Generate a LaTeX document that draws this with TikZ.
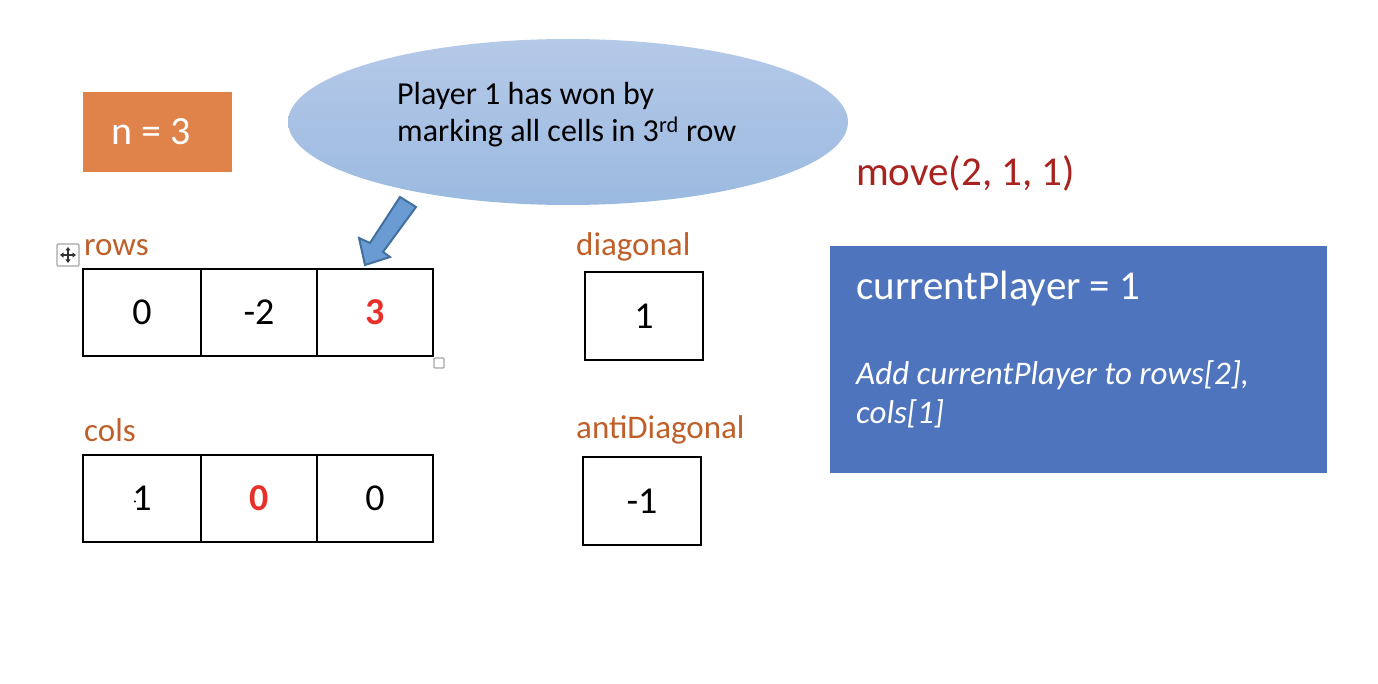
\documentclass[tikz,border=0pt]{standalone}
\usepackage{fontspec}
\setmainfont{Carlito}
\usetikzlibrary{shapes.geometric,arrows.meta}
\definecolor{orangebox}{HTML}{E0834A}
\definecolor{labelc}{HTML}{BF5F2A}
\definecolor{bluebox}{HTML}{4E74BE}
\definecolor{ellTop}{HTML}{B5C9E8}
\definecolor{ellBot}{HTML}{9BBAE0}
\definecolor{arrowfill}{HTML}{6A9BD3}
\definecolor{arrowline}{HTML}{41709F}
\definecolor{movec}{HTML}{A8231E}
\definecolor{redval}{HTML}{E8302A}
\tikzset{
  lbl/.style={anchor=west, text=labelc, font=\fontsize{33}{38}\selectfont, inner sep=0pt},
  cell/.style={draw=black, line width=2pt, minimum height=87pt, inner sep=0pt, font=\fontsize{38}{44}\selectfont},
  redcell/.style={cell, text=redval, font=\fontsize{38}{44}\selectfont\bfseries},
  iconarrow/.style={line width=1.2pt, draw=black!80, -{Triangle[length=3.5pt,width=5pt]}},
}
\begin{document}
\begin{tikzpicture}[x=1pt,y=-1pt]
\useasboundingbox (0,0) rectangle (1378,684);
% n = 3
\fill[orangebox] (83,92) rectangle (232,172);
\node[text=white, font=\fontsize{40}{46}\selectfont, inner sep=0pt] (nbox) at (151,132) {n = 3};
% ellipse
\node[ellipse, top color=ellTop, bottom color=ellBot, minimum width=560pt, minimum height=166pt, inner sep=0pt] (ell) at (568,122) {};
\node[anchor=west, align=left, font=\fontsize{32}{37}\selectfont, inner sep=0pt] (elltxt) at (397,115)
  {Player 1 has won by\\marking all cells in 3\textsuperscript{rd} row};
% block arrow
\draw[fill=arrowfill, draw=arrowline, line width=2pt, line join=miter]
  (400,197) -- (416,207) -- (383,252) -- (390,257) -- (365,265) -- (359,238) -- (370,243) -- cycle;
% rows
\node[lbl] (rowsl) at (84,248) {rows};
\node[cell, minimum width=118pt] (r0) at (142,312.5) {0};
\node[cell, minimum width=116pt] (r1) at (259,312.5) {-2};
\node[redcell, minimum width=116pt] (r2) at (375,312.5) {3};
% move icon
\draw[draw=gray!70, line width=1.2pt, fill=white, rounded corners=1pt] (57,244) rectangle (79,266);
\coordinate (ic) at (68,255);
\draw[iconarrow] (ic) -- ++(0,-8);
\draw[iconarrow] (ic) -- ++(0,8);
\draw[iconarrow] (ic) -- ++(-8,0);
\draw[iconarrow] (ic) -- ++(8,0);
% resize handle
\draw[draw=gray!70, line width=1.2pt, fill=white, rounded corners=1pt] (434,358) rectangle (444,368);
% cols
\node[lbl] (colsl) at (84,430) {cols};
\node[cell, minimum width=118pt] (c0) at (142,498.5) {1};
\fill (c0.center) ++(-7,3) circle (1.2pt);
\node[redcell, minimum width=116pt] (c1) at (259,498.5) {0};
\node[cell, minimum width=116pt] (c2) at (375,498.5) {0};
% diagonal
\node[lbl] (diagl) at (576,247) {diagonal};
\node[cell, minimum width=118pt, minimum height=88pt] (d0) at (644,316) {1};
\node[lbl] (adiagl) at (576,430) {antiDiagonal};
\node[cell, minimum width=118pt, minimum height=88pt] (a0) at (642,501) {-1};
% move
\node[anchor=west, text=movec, font=\fontsize{41}{46}\selectfont, inner sep=0pt] (move) at (856,173) {move(2, 1, 1)};
% blue box
\node[fill=bluebox, minimum width=497pt, minimum height=227pt, inner sep=0pt] (bb) at (1078.5,359.5) {};
\node[anchor=west, text=white, font=\fontsize{41}{46}\selectfont, inner sep=0pt] (cp) at (856,289) {currentPlayer = 1};
\node[anchor=west, align=left, text=white, font=\fontsize{33}{39}\selectfont\itshape, inner sep=0pt] (add) at (856,394)
  {Add currentPlayer to rows[2],\\cols[1]};
\end{tikzpicture}
\end{document}
